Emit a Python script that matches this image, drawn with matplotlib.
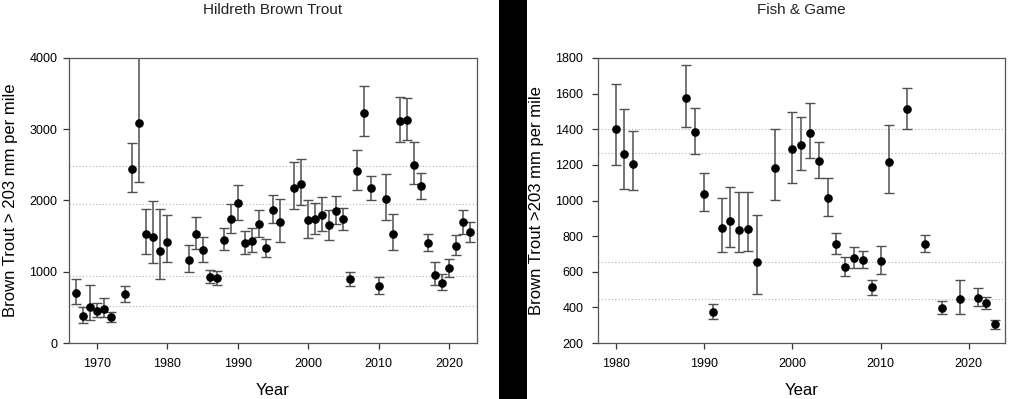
import matplotlib
matplotlib.use("Agg")
import matplotlib.pyplot as plt
from matplotlib.patches import Rectangle
import numpy as np

plt.rcParams['font.family'] = ['Liberation Sans', 'DejaVu Sans']

# ---- Hildreth Brown Trout ----
h_years = [1967, 1968, 1969, 1970, 1971, 1972, 1974, 1975, 1976, 1977, 1978, 1979, 1980,
           1983, 1984, 1985, 1986, 1987, 1988, 1989, 1990, 1991, 1992, 1993, 1994, 1995,
           1996, 1998, 1999, 2000, 2001, 2002, 2003, 2004, 2005, 2006, 2007, 2008, 2009,
           2010, 2011, 2012, 2013, 2014, 2015, 2016, 2017, 2018, 2019, 2020, 2021, 2022, 2023]
h_mean = [697, 379, 510, 453, 482, 360, 683, 2438, 3083, 1535, 1488, 1296, 1422,
          1165, 1525, 1305, 926, 908, 1450, 1740, 1960, 1404, 1436, 1670, 1329, 1867,
          1694, 2175, 2236, 1722, 1736, 1792, 1652, 1857, 1740, 903, 2414, 3232, 2171,
          800, 2025, 1535, 3116, 3134, 2503, 2199, 1399, 959, 847, 1053, 1361, 1694, 1554]
h_upper = [903, 501, 810, 557, 636, 435, 800, 2811, 4400, 1881, 1988, 1885, 1796,
           1375, 1764, 1492, 1020, 1015, 1610, 1955, 2218, 1572, 1614, 1867, 1455, 2073,
           2017, 2536, 2578, 2003, 1965, 2045, 1871, 2068, 1890, 1001, 2713, 3602, 2339,
           922, 2372, 1806, 3453, 3443, 2821, 2390, 1534, 1132, 964, 1183, 1512, 1862, 1698]
h_lower = [543, 285, 323, 369, 369, 295, 580, 2119, 2255, 1254, 1118, 898, 1137,
           992, 1319, 1137, 846, 810, 1305, 1544, 1731, 1245, 1273, 1488, 1207, 1684,
           1418, 1876, 1937, 1478, 1534, 1572, 1450, 1670, 1586, 805, 2143, 2901, 2003,
           692, 1731, 1305, 2817, 2849, 2227, 2021, 1287, 814, 744, 931, 1231, 1534, 1413]
h_reflines = [2480, 1950, 940, 520]

# ---- Fish & Game ----
f_years = [1980, 1981, 1982, 1988, 1989, 1990, 1991, 1992, 1993, 1994, 1995, 1996, 1998,
           2000, 2001, 2002, 2003, 2004, 2005, 2006, 2007, 2008, 2009, 2010, 2011, 2013,
           2015, 2017, 2019, 2021, 2022, 2023]
f_mean = [1404, 1263, 1207, 1578, 1384, 1039, 374, 846, 887, 837, 840, 655, 1183,
          1288, 1312, 1381, 1224, 1013, 758, 629, 679, 668, 513, 659, 1215, 1515,
          758, 398, 447, 454, 426, 305]
f_upper = [1653, 1513, 1391, 1763, 1520, 1153, 419, 1013, 1075, 1047, 1045, 919, 1404,
           1499, 1471, 1547, 1331, 1127, 820, 685, 741, 719, 556, 745, 1423, 1631,
           808, 438, 554, 509, 460, 329]
f_lower = [1200, 1063, 1058, 1413, 1263, 942, 337, 713, 738, 711, 715, 477, 1002,
           1101, 1172, 1241, 1129, 913, 702, 576, 620, 620, 471, 586, 1041, 1404,
           711, 363, 365, 406, 393, 280]
f_reflines = [1402, 1266, 653, 445]

W, H = 1024, 399
fig = plt.figure(figsize=(W / 100, H / 100), dpi=100)
fig.patch.set_facecolor('white')

# black separator band
fig.patches.append(Rectangle((499 / W, 0), 28 / W, 1, transform=fig.transFigure,
                             facecolor='black', edgecolor='none', zorder=0))

AX_TOP, AX_BOT = 58, 343
ax1 = fig.add_axes([69 / W, 1 - AX_BOT / H, 408 / W, (AX_BOT - AX_TOP) / H])
ax2 = fig.add_axes([598 / W, 1 - AX_BOT / H, 407 / W, (AX_BOT - AX_TOP) / H])


def draw(ax, years, mean, lower, upper, refl, title, ylabel, xlim, ylim, yticks,
         ylab_x, ylab_size, ypad):
    years = np.array(years)
    mean = np.array(mean)
    lower = np.array(lower)
    upper = np.array(upper)
    for r in refl:
        ax.axhline(r, color='#b0b0b0', lw=0.8, ls=(0, (1, 2)), zorder=1)
    ax.errorbar(years, mean, yerr=[mean - lower, upper - mean], fmt='none',
                ecolor='#505050', elinewidth=1.1, capsize=3.5, capthick=1.0, zorder=2)
    ax.plot(years, mean, 'o', color='black', markersize=5.2, zorder=3)
    ax.set_xlim(*xlim)
    ax.set_ylim(*ylim)
    ax.set_yticks(yticks)
    ax.set_xticks([t for t in range(1970, 2030, 10) if xlim[0] < t < xlim[1]])
    hpx = AX_BOT - AX_TOP
    ax.text(0.5, (AX_BOT - 14) / hpx, title, transform=ax.transAxes, ha='center',
            va='baseline', fontsize=11, color='#222222')
    ax.text(0.5, (AX_BOT - 395) / hpx, 'Year', transform=ax.transAxes, ha='center',
            va='baseline', fontsize=12)
    ax.set_ylabel(ylabel, fontsize=ylab_size)
    ax.yaxis.set_label_coords(ylab_x, 0.5)
    ax.tick_params(direction='out', length=4, width=0.9, labelsize=9, colors='#333333',
                   labelcolor='black')
    ax.tick_params(axis='x', pad=7)
    ax.tick_params(axis='y', pad=ypad)
    for s in ax.spines.values():
        s.set_color('#555555')
        s.set_linewidth(0.9)


draw(ax1, h_years, h_mean, h_lower, h_upper, h_reflines, 'Hildreth Brown Trout',
     'Brown Trout > 203 mm per mile', (1966, 2024), (0, 4000), [0, 1000, 2000, 3000, 4000],
     (18 - 69) / 408, 12, 4.5)
draw(ax2, f_years, f_mean, f_lower, f_upper, f_reflines, 'Fish & Game',
     'Brown Trout >203 mm per mile', (1978, 2024.1), (200, 1800),
     [200, 400, 600, 800, 1000, 1200, 1400, 1600, 1800],
     (544 - 598) / 407, 12, 6.5)

fig.savefig('out.png', dpi=100)
